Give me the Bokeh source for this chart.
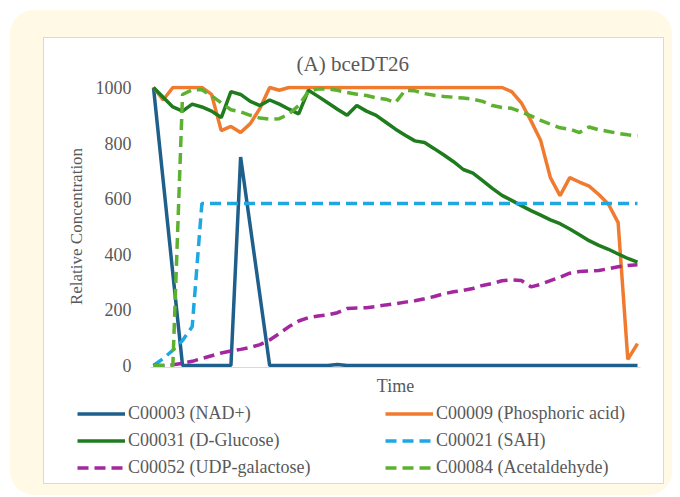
from bokeh.plotting import figure
from bokeh.layouts import column
from bokeh.models import Range1d, FixedTicker, Legend, LegendItem
from bokeh.embed import file_html
from bokeh.resources import INLINE

# ---- data ----
time_points = list(range(51))

nad = [1000, 665, 330, 0, 0, 0, 0, 0, 0, 750, 500, 250, 0, 0, 0, 0, 0, 0, 0, 4,
       0, 0, 0, 0, 0, 0, 0, 0, 0, 0, 0, 0, 0, 0, 0, 0, 0, 0, 0, 0,
       0, 0, 0, 0, 0, 0, 0, 0, 0, 0, 0]

phosphoric = [1000, 955, 1000, 1000, 1000, 1000, 975, 845, 860, 838, 870, 925, 1000, 990, 1000,
              1000, 1000, 1000, 1000, 1000, 1000, 1000, 1000, 1000, 1000, 1000, 1000, 1000, 1000, 1000,
              1000, 1000, 1000, 1000, 1000, 1000, 1000, 985, 945, 880, 809, 676, 611, 676, 660,
              645, 615, 580, 514, 22, 79]

glucose = [1000, 965, 930, 915, 940, 930, 915, 892, 985, 975, 950, 935, 955, 940, 922,
           905, 990, 968, 945, 922, 900, 935, 915, 900, 875, 850, 828, 808, 802, 780,
           757, 733, 705, 692, 665, 637, 612, 594, 575, 557, 541, 524, 510, 491, 470,
           449, 432, 418, 401, 385, 372]

sah = [0, 25, 55, 90, 140, 583, 583, 583, 583, 583, 583, 583, 583, 583, 583,
       583, 583, 583, 583, 583, 583, 583, 583, 583, 583, 583, 583, 583, 583, 583,
       583, 583, 583, 583, 583, 583, 583, 583, 583, 583, 583, 583, 583, 583, 583,
       583, 583, 583, 583, 583, 583]

udp_gal = [0, 0, 3, 8, 15, 25, 35, 45, 52, 58, 65, 75, 92, 115, 140,
           160, 172, 178, 182, 190, 205, 207, 208, 212, 218, 222, 228, 233, 240, 248,
           258, 265, 270, 277, 288, 295, 305, 308, 306, 283, 292, 305, 318, 332, 338,
           340, 342, 348, 355, 360, 362]

acetaldehyde = [0, 0, 0, 975, 992, 992, 970, 945, 920, 912, 900, 890, 886, 888, 905,
                935, 985, 995, 995, 990, 982, 976, 971, 963, 958, 946, 990, 988, 978, 972,
                968, 965, 962, 958, 950, 935, 928, 925, 912, 898, 882, 868, 855, 850, 838,
                858, 848, 842, 835, 830, 826]

series = [
    ("C00003 (NAD+)", nad, "#1F5F8B", None),
    ("C00009 (Phosphoric acid)", phosphoric, "#F07B2F", None),
    ("C00031 (D-Glucose)", glucose, "#1E7B1E", None),
    ("C00021 (SAH)", sah, "#1FA7E1", "11 6"),
    ("C00052 (UDP-galactose)", udp_gal, "#A3279E", "11 6"),
    ("C00084 (Acetaldehyde)", acetaldehyde, "#5DB130", "11 6"),
]

y_ticks = [0, 200, 400, 600, 800, 1000]

FONT = "Liberation Serif"
GREY = "#595959"
LW = 3.5

# ---------------- main chart ----------------
p = figure(width=619, height=364, output_backend="svg", toolbar_location=None,
           x_range=Range1d(-0.31, 50.31), y_range=Range1d(-7.19, 1007.19),
           min_border_left=106, min_border_right=23, min_border_top=47, min_border_bottom=35,
           background_fill_color="white", border_fill_color="white", outline_line_color=None)
p.frame_align = False

for name, vals, color, dash in series:
    kw = {"line_dash": dash} if dash else {}
    p.line(time_points, vals, line_color=color, line_width=LW, **kw)

p.title.text = "(A) bceDT26"
p.title.align = "left"
p.title.offset = 146
p.title.standoff = 20
p.title.text_font = FONT
p.title.text_font_size = "21px"
p.title.text_font_style = "normal"
p.title.text_color = GREY

p.grid.visible = False
p.yaxis.ticker = FixedTicker(ticks=y_ticks)
p.yaxis.axis_line_color = None
p.yaxis.major_tick_line_color = None
p.yaxis.major_tick_out = 0
p.yaxis.major_tick_in = 0
p.yaxis.minor_tick_line_color = None
p.yaxis.major_label_standoff = 19
p.yaxis.major_label_text_font = FONT
p.yaxis.major_label_text_font_size = "18px"
p.yaxis.major_label_text_color = GREY
p.yaxis.axis_label = "Relative Concentration"
p.yaxis.axis_label_text_font = FONT
p.yaxis.axis_label_text_font_size = "17px"
p.yaxis.axis_label_text_font_style = "normal"
p.yaxis.axis_label_text_color = GREY
p.yaxis.axis_label_standoff = 7

p.xaxis.ticker = FixedTicker(ticks=[])
p.xaxis.axis_line_color = "#D9D9D9"
p.xaxis.major_tick_line_color = None
p.xaxis.minor_tick_line_color = None
p.xaxis.major_label_standoff = 0
p.xaxis.axis_label = "Time"
p.xaxis.axis_label_text_font = FONT
p.xaxis.axis_label_text_font_size = "18px"
p.xaxis.axis_label_text_font_style = "normal"
p.xaxis.axis_label_text_color = GREY
p.xaxis.axis_label_standoff = 8

# ---------------- legend strip ----------------
lg = figure(width=619, height=81, output_backend="svg", toolbar_location=None,
            x_range=Range1d(0, 50), y_range=Range1d(5000, 6000),
            x_axis_location=None, y_axis_location=None,
            min_border_left=0, min_border_right=0, min_border_top=0, min_border_bottom=0,
            background_fill_color="white", border_fill_color="white", outline_line_color=None)
lg.frame_align = False
lg.grid.visible = False

legend_renderers = []
for name, vals, color, dash in series:
    kw = {"line_dash": dash} if dash else {}
    r = lg.line(time_points, vals, line_color=color, line_width=LW, **kw)
    legend_renderers.append((name, r))

def make_legend(entries, loc):
    return Legend(items=[LegendItem(label=n, renderers=[r]) for n, r in entries],
                  location=loc, orientation="vertical",
                  glyph_width=48, glyph_height=21, label_height=21, label_standoff=3,
                  spacing=6, padding=0, margin=0, border_line_color=None,
                  background_fill_alpha=0, label_text_font=FONT,
                  label_text_font_size="18px", label_text_color=GREY)

left_col = [legend_renderers[i] for i in (0, 2, 4)]
right_col = [legend_renderers[i] for i in (1, 3, 5)]
lg.add_layout(make_legend(left_col, (33, 5)))
lg.add_layout(make_legend(right_col, (341, 5)))

inner = column(p, lg, spacing=0, styles={"background-color": "white", "outline": "1px solid #D9D9D9"})
page = column(inner, styles={"background-color": "#FFF9E6", "border-radius": "24px",
                             "padding": "28px 9px 12px 34px", "margin": "10px 0px 0px 10px"})

open("out.html", "w").write(file_html(page, INLINE))
